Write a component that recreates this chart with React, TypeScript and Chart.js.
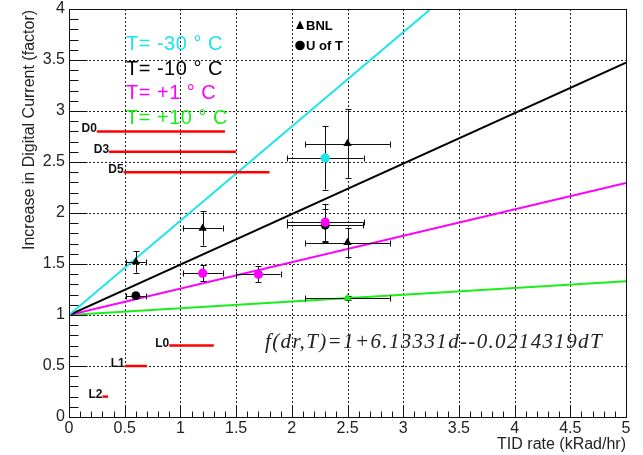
import { useEffect, useRef } from "react";
import { Chart, registerables } from "chart.js";

Chart.register(...registerables);

const SANS = "'Liberation Sans', Arial, sans-serif";
const SERIF = "'Liberation Serif', 'Times New Roman', serif";

// Fit: current increase grows linearly with TID rate, slope depends on temperature
const tempLabels = ["T= -30 \u00b0 C", "T= -10 \u00b0 C", "T= +1 \u00b0 C", "T= +10 \u00b0 C"];
const tempColors = ["#1de4ec", "#000000", "#ff00ff", "#1aee1a"];
const fitSlopes = [0.924, 0.495, 0.259, 0.066];
const fitIntercept = 1;
const fitRange = [0, 5];
const fitFormula = "f(dr,T)=1+6.13331d--0.0214319dT";

// BNL measurements (triangles)
const bnlRate = [0.6, 1.2, 2.5, 2.5, 2.5];
const bnlRateErr = [0.09, 0.18, 0.38, 0.38, 0.38];
const bnlIncrease = [1.52, 1.85, 2.68, 1.71, 1.165];
const bnlIncreaseErr = [0.105, 0.17, 0.34, 0.145, 0.02];
const bnlColor = ["#000000", "#000000", "#000000", "#000000", "#1aee1a"];

// U of T measurements (circles)
const uotRate = [0.6, 2.3, 2.3, 1.2, 1.7, 2.3];
const uotRateErr = [0.09, 0.34, 0.345, 0.18, 0.2, 0.345];
const uotIncrease = [1.19, 1.88, 2.54, 1.41, 1.4, 1.91];
const uotIncreaseErr = [0.02, 0.16, 0.31, 0.08, 0.08, 0.18];
const uotColor = ["#000000", "#000000", "#1de4ec", "#ff00ff", "#ff00ff", "#ff00ff"];

// Limit levels
const limitNames = ["D0", "D3", "D5", "L0", "L1", "L2"];
const limitLevel = [2.8, 2.6, 2.4, 0.7, 0.5, 0.2];
const limitFrom = [0.25, 0.36, 0.49, 0.9, 0.5, 0.3];
const limitTo = [1.4, 1.5, 1.8, 1.3, 0.7, 0.35];

const xTickStep = 0.5;
const yTickStep = 0.5;
const minorStep = 0.1;

function pointSet(
  rate: number[], rateErr: number[], inc: number[], incErr: number[],
  colors: string[], color: string, style: string, radius: number
) {
  const data: any[] = [];
  rate.forEach((r, i) => {
    if (colors[i] === color) {
      data.push({ x: r, y: inc[i], ex: rateErr[i], ey: incErr[i] });
    }
  });
  return {
    type: "scatter" as const,
    data,
    errorBars: true,
    pointStyle: style,
    pointRadius: radius,
    backgroundColor: color,
    borderColor: color,
    borderWidth: 0,
  };
}

const overlay = {
  id: "overlay",
  beforeDatasetsDraw(chart: any) {
    const { ctx, chartArea: a, scales } = chart;
    const xs = scales.x, ys = scales.y;
    ctx.save();
    // dotted grid
    ctx.strokeStyle = "#222";
    ctx.lineWidth = 1;
    ctx.setLineDash([2, 2]);
    for (let v = xTickStep; v < 5 - 1e-6; v += xTickStep) {
      const px = Math.round(xs.getPixelForValue(v)) + 0.5;
      ctx.beginPath(); ctx.moveTo(px, a.top); ctx.lineTo(px, a.bottom); ctx.stroke();
    }
    for (let v = yTickStep; v < 4 - 1e-6; v += yTickStep) {
      const py = Math.round(ys.getPixelForValue(v)) + 0.5;
      ctx.beginPath(); ctx.moveTo(a.left, py); ctx.lineTo(a.right, py); ctx.stroke();
    }
    ctx.restore();
  },
  beforeDatasetDraw(chart: any, args: any) {
    const ds = chart.data.datasets[args.index];
    if (!ds.errorBars) return;
    const { ctx, scales } = chart;
    const xs = scales.x, ys = scales.y;
    ctx.save();
    ctx.strokeStyle = "#111";
    ctx.lineWidth = 1;
    const cap = 3;
    ds.data.forEach((p: any) => {
      const cx = xs.getPixelForValue(p.x), cy = ys.getPixelForValue(p.y);
      const x0 = xs.getPixelForValue(p.x - p.ex), x1 = xs.getPixelForValue(p.x + p.ex);
      const y0 = ys.getPixelForValue(p.y - p.ey), y1 = ys.getPixelForValue(p.y + p.ey);
      const rx = Math.round(cx) + 0.5, ry = Math.round(cy) + 0.5;
      ctx.beginPath();
      ctx.moveTo(x0, ry); ctx.lineTo(x1, ry);
      ctx.moveTo(Math.round(x0) + 0.5, ry - cap); ctx.lineTo(Math.round(x0) + 0.5, ry + cap);
      ctx.moveTo(Math.round(x1) + 0.5, ry - cap); ctx.lineTo(Math.round(x1) + 0.5, ry + cap);
      ctx.moveTo(rx, y0); ctx.lineTo(rx, y1);
      ctx.moveTo(rx - cap, Math.round(y0) + 0.5); ctx.lineTo(rx + cap, Math.round(y0) + 0.5);
      ctx.moveTo(rx - cap, Math.round(y1) + 0.5); ctx.lineTo(rx + cap, Math.round(y1) + 0.5);
      ctx.stroke();
    });
    ctx.restore();
  },
  afterDraw(chart: any) {
    const { ctx, chartArea: a, scales } = chart;
    const xs = scales.x, ys = scales.y;
    ctx.save();

    // frame and inward ticks
    ctx.strokeStyle = "#111";
    ctx.lineWidth = 1;
    ctx.setLineDash([]);
    const L = Math.round(a.left) + 0.5, R = Math.round(a.right) + 0.5;
    const T = Math.round(a.top) + 0.5, B = Math.round(a.bottom) + 0.5;
    ctx.strokeRect(L, T, R - L, B - T);
    ctx.beginPath();
    for (let i = 0; i <= 50; i++) {
      const v = i * minorStep;
      const px = Math.round(xs.getPixelForValue(v)) + 0.5;
      const len = i % 5 === 0 ? 12 : 6;
      ctx.moveTo(px, B); ctx.lineTo(px, B - len);
    }
    for (let i = 0; i <= 40; i++) {
      const v = i * minorStep;
      const py = Math.round(ys.getPixelForValue(v)) + 0.5;
      const len = i % 5 === 0 ? 18 : 9;
      ctx.moveTo(L, py); ctx.lineTo(L + len, py);
    }
    ctx.stroke();

    // axis titles
    ctx.fillStyle = "#222";
    ctx.font = `16px ${SANS}`;
    ctx.textBaseline = "alphabetic";
    ctx.textAlign = "right";
    ctx.fillText("TID rate (kRad/hr)", a.right, 449);
    ctx.save();
    ctx.translate(34, 130);
    ctx.rotate(-Math.PI / 2);
    ctx.textAlign = "center";
    ctx.fillText("Increase in Digital Current (factor)", 0, 0);
    ctx.restore();

    // limit labels
    ctx.fillStyle = "#111";
    ctx.font = `bold 12px ${SANS}`;
    ctx.textAlign = "right";
    limitNames.forEach((n, i) => {
      const px = xs.getPixelForValue(limitFrom[i]);
      const py = ys.getPixelForValue(limitLevel[i]);
      ctx.fillText(n, px, py + 1);
    });

    // temperature legend
    ctx.textAlign = "left";
    ctx.font = `20px ${SANS}`;
    (ctx as any).letterSpacing = "0.5px";
    tempLabels.forEach((t, i) => {
      ctx.fillStyle = tempColors[i];
      ctx.fillText(t, 126, 50 + i * 24.7);
    });
    (ctx as any).letterSpacing = "0px";

    // source legend
    ctx.fillStyle = "#000";
    ctx.beginPath();
    ctx.moveTo(300, 20.5); ctx.lineTo(304, 29); ctx.lineTo(296, 29); ctx.closePath(); ctx.fill();
    ctx.beginPath();
    ctx.arc(300, 45.5, 4.8, 0, Math.PI * 2); ctx.fill();
    ctx.font = `bold 13px ${SANS}`;
    ctx.fillText("BNL", 306, 30);
    ctx.fillText("U of T", 306, 50);

    // fit formula
    ctx.fillStyle = "#222";
    ctx.font = `italic 21px ${SERIF}`;
    (ctx as any).letterSpacing = "1.35px";
    ctx.fillText(fitFormula, 265, 348);
    (ctx as any).letterSpacing = "0px";

    ctx.restore();
  },
};

const tickText = (v: any) => `${+Number(v).toFixed(2)}`;

export default function App() {
  const ref = useRef<HTMLCanvasElement>(null);

  useEffect(() => {
    if (!ref.current) return;

    const fitSets = fitSlopes.map((s, i) => ({
      type: "line" as const,
      data: fitRange.map((x) => ({ x, y: fitIntercept + s * x })),
      borderColor: tempColors[i],
      borderWidth: 2,
      pointRadius: 0,
      clip: 0,
    }));

    const limitSets = limitNames.map((_, i) => ({
      type: "line" as const,
      data: [
        { x: limitFrom[i], y: limitLevel[i] },
        { x: limitTo[i], y: limitLevel[i] },
      ],
      borderColor: "#ff0000",
      borderWidth: 2.5,
      pointRadius: 0,
      clip: 0,
    }));

    // Chart.js paints the first dataset last, so the topmost markers come first
    const pointSets = [
      pointSet(uotRate, uotRateErr, uotIncrease, uotIncreaseErr, uotColor, "#ff00ff", "circle", 4.6),
      pointSet(bnlRate, bnlRateErr, bnlIncrease, bnlIncreaseErr, bnlColor, "#1aee1a", "triangle", 4.8),
      pointSet(bnlRate, bnlRateErr, bnlIncrease, bnlIncreaseErr, bnlColor, "#000000", "triangle", 4.8),
      pointSet(uotRate, uotRateErr, uotIncrease, uotIncreaseErr, uotColor, "#1de4ec", "circle", 4.6),
      pointSet(uotRate, uotRateErr, uotIncrease, uotIncreaseErr, uotColor, "#000000", "circle", 4.4),
    ];

    const tickFont = { family: SANS, size: 16 };

    const chart = new Chart(ref.current, {
      type: "scatter",
      data: { datasets: [...pointSets, ...limitSets, ...fitSets] as any },
      options: {
        animation: false,
        responsive: false,
        devicePixelRatio: 1,
        layout: { padding: { top: 9, right: 17, left: 0, bottom: 0 } },
        plugins: { legend: { display: false }, tooltip: { enabled: false } },
        scales: {
          x: {
            type: "linear",
            min: 0,
            max: 5,
            grid: { display: false, drawTicks: false },
            border: { display: false },
            ticks: { stepSize: xTickStep, padding: 2, font: tickFont, color: "#222", maxRotation: 0, autoSkip: false, callback: tickText },
            afterFit: (s: any) => {
              s.height = 38;
              s.paddingLeft = 0; s.paddingRight = 0;
            },
          },
          y: {
            type: "linear",
            min: 0,
            max: 4,
            grid: { display: false, drawTicks: false },
            border: { display: false },
            ticks: { stepSize: yTickStep, padding: 4, font: tickFont, color: "#222", autoSkip: false, callback: tickText },
            afterFit: (s: any) => {
              s.width = 69;
              s.paddingTop = 0; s.paddingBottom = 0;
            },
          },
        },
      } as any,
      plugins: [overlay],
    });

    return () => chart.destroy();
  }, []);

  return (
    <div style={{ position: "absolute", left: 0, top: 0, width: 643, height: 455, background: "#fff" }}>
      <canvas ref={ref} width={643} height={455} style={{ width: 643, height: 455, display: "block" }} />
    </div>
  );
}
